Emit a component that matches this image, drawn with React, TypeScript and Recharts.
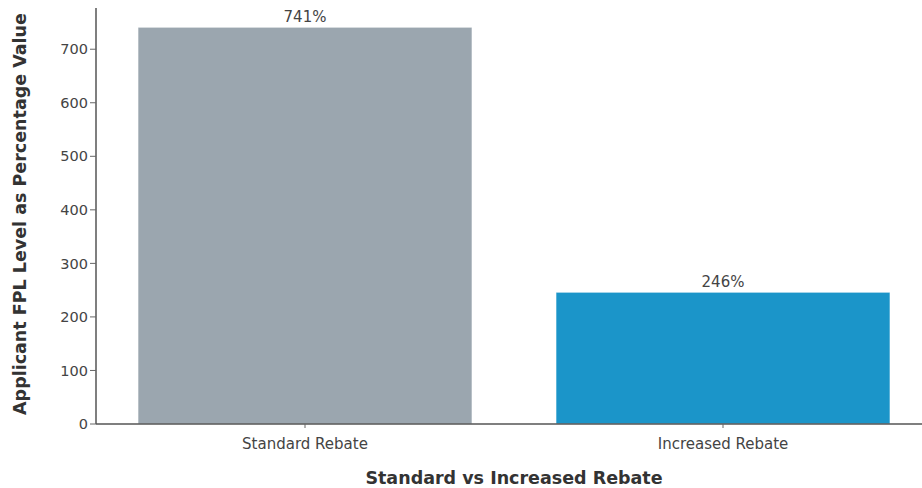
import { Bar, BarChart, LabelList, XAxis, YAxis } from "recharts";

const categories = ["Standard Rebate", "Increased Rebate"];
const fplValues = [741, 246];
const barColors = ["#9ba6af", "#1b95c9"];
const yTicks = [0, 100, 200, 300, 400, 500, 600, 700];

const data = categories.map((name, i) => ({
  name,
  value: fplValues[i],
  fill: barColors[i],
}));

const font = "'DejaVu Sans', Verdana, sans-serif";

export default function App() {
  return (
    <div
      style={{
        position: "absolute",
        left: 0,
        top: 0,
        width: 922,
        height: 488,
        overflow: "hidden",
        background: "#fff",
        fontFamily: font,
      }}
    >
      <BarChart
        width={940}
        height={488}
        data={data}
        margin={{ top: 8, right: 8, bottom: 0, left: 40 }}
        barCategoryGap={42}
      >
        <XAxis
          dataKey="name"
          axisLine={{ stroke: "#555", strokeWidth: 1.5 }}
          tickLine={{ stroke: "#666" }}
          tickSize={4}
          tick={{ fill: "#444", fontSize: 15, fontFamily: font, dy: 8 }}
          height={64}
          label={{
            value: "Standard vs Increased Rebate",
            position: "insideBottom",
            offset: 4,
            fill: "#333",
            fontSize: 17.5,
            fontWeight: "bold",
            fontFamily: font,
          }}
        />
        <YAxis
          domain={[0, 777]}
          ticks={yTicks}
          interval={0}
          axisLine={{ stroke: "#555", strokeWidth: 1.5 }}
          tickLine={{ stroke: "#666" }}
          tickSize={6}
          tick={{ fill: "#444", fontSize: 14.5, fontFamily: font }}
          width={56}
          label={{
            value: "Applicant FPL Level as Percentage Value",
            angle: -90,
            position: "insideLeft",
            dx: -25,
            dy: -2,
            style: { textAnchor: "middle" },
            fill: "#333",
            fontSize: 17.5,
            fontWeight: "bold",
            fontFamily: font,
          }}
        />
        <Bar
          dataKey="value"
          stroke="#ffffff"
          strokeOpacity={0.6}
          strokeWidth={1}
          isAnimationActive={false}
        >
          <LabelList
            dataKey="value"
            position="top"
            offset={5}
            formatter={(v: number) => `${v}%`}
            fill="#444"
            fontSize={15}
            fontFamily={font}
          />
        </Bar>
      </BarChart>
    </div>
  );
}
